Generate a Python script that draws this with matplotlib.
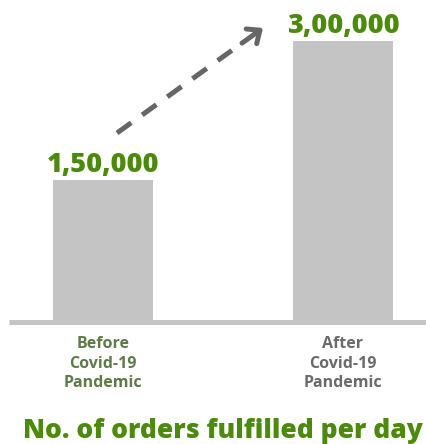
import numpy as np
import matplotlib.pyplot as plt
from matplotlib.transforms import ScaledTranslation

# Orders fulfilled per day, before and after the pandemic
periods = ['Before\nCovid-19\nPandemic', 'After\nCovid-19\nPandemic']
orders = [150000, 300000]
value_labels = ['1,50,000', '3,00,000']
title = 'No. of orders fulfilled per day'

GREEN = '#4b8a0c'
BAR_GREY = '#c4c4c4'
ARROW_GREY = '#666666'
label_colors = ['#5e7b48', '#6a6a6a']

plt.rcParams['font.family'] = ['Open Sans', 'DejaVu Sans']

W, H = 426, 444
fig = plt.figure(figsize=(W / 100, H / 100), dpi=100)
ax = fig.add_axes([0, 0, 1, 1])

# scale: 300000 spans ~278 px, baseline at 319.5 px from the top
px_per_unit_y = 278 / max(orders)
base_px = 319.5
ax.set_ylim(-(H - base_px) / px_per_unit_y, base_px / px_per_unit_y)
# bar centres at 103 px and 343 px
px_per_unit_x = 240
ax.set_xlim(-103 / px_per_unit_x, (W - 103) / px_per_unit_x)
ax.axis('off')

x = range(len(orders))
ax.bar(x, orders, width=100 / px_per_unit_x, color=BAR_GREY, zorder=2)

# baseline sits just below the bars
shift = ScaledTranslation(0, -2.5 / 100, fig.dpi_scale_trans)
ax.plot([9 / W, 1], [0, 0], color=BAR_GREY, lw=3.6, solid_capstyle='butt',
        transform=ax.get_yaxis_transform() + shift, zorder=1)

for xi, val, txt in zip(x, orders, value_labels):
    ax.annotate(txt, (xi, val), xytext=(0, 6.2), textcoords='offset points',
                ha='center', va='baseline', color=GREEN, fontsize=19.5,
                fontweight=800)

for xi, txt, c in zip(x, periods, label_colors):
    ax.annotate(txt, (xi, 0), xytext=(0, -12), textcoords='offset points',
                ha='center', va='top', color=c, fontsize=11.5,
                fontweight='bold', linespacing=1.3)

fig.text(223 / W, (H - 437.5) / H, title, ha='center', va='baseline',
         color=GREEN, fontsize=19, fontweight=800)

# dashed growth arrow: dashes first, then a short solid shaft with the head
start = np.array([117, H - 133])
end = np.array([263, H - 28])
unit = (end - start) / np.hypot(*(end - start))
shaft = start + unit * 154
ax.annotate('', xy=tuple(shaft), xytext=tuple(start), xycoords='figure pixels',
            textcoords='figure pixels',
            arrowprops=dict(arrowstyle='-', color=ARROW_GREY, lw=3.6,
                            linestyle=(0, (3.5, 2.7)), capstyle='butt',
                            shrinkA=0, shrinkB=0))
ax.annotate('', xy=tuple(end), xytext=tuple(shaft),
            xycoords='figure pixels', textcoords='figure pixels',
            arrowprops=dict(arrowstyle='->,head_length=0.75,head_width=0.65',
                            color=ARROW_GREY, lw=3.6, shrinkA=0, shrinkB=0))

fig.savefig('out.png', dpi=100)
